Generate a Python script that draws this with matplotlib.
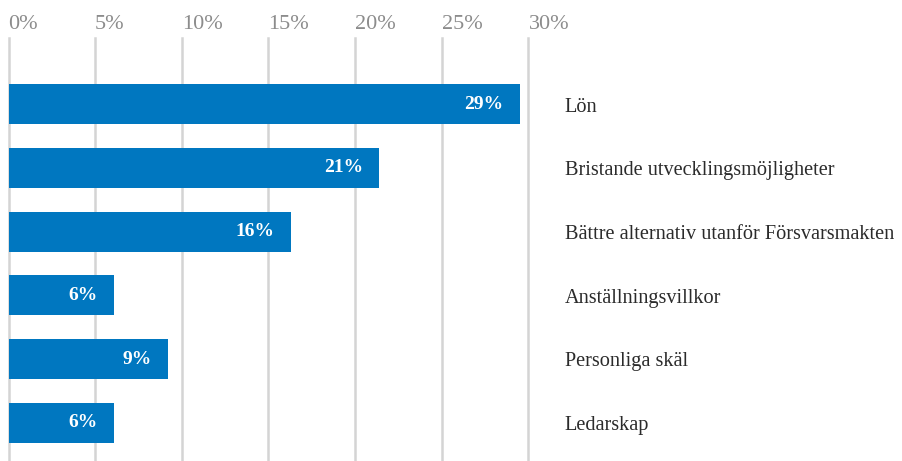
import matplotlib.pyplot as plt
import numpy as np

reasons = ["Lön", "Bristande utvecklingsmöjligheter",
           "Bättre alternativ utanför Försvarsmakten",
           "Anställningsvillkor", "Personliga skäl", "Ledarskap"]
shares = [29.5, 21.4, 16.3, 6.1, 9.2, 6.1]
value_labels = ["29%", "21%", "16%", "6%", "9%", "6%"]
ticks = [0, 5, 10, 15, 20, 25, 30]

plt.rcParams['font.family'] = ['Liberation Serif', 'DejaVu Serif']

fig = plt.figure(figsize=(9.03, 4.61), dpi=100)
ax = fig.add_axes([8.5 / 903, 0, 520 / 903, 423 / 461])

y = np.arange(len(reasons))
ax.barh(y, shares, height=0.63, color='#0077c0', zorder=2)

ax.set_xlim(0, 30)
ax.set_ylim(5.6, -1.04)
ax.set_yticks([])
ax.set_xticks(ticks)
ax.set_xticklabels([f"{t}%" for t in ticks], ha='left')
ax.xaxis.tick_top()
ax.tick_params(axis='x', length=0, pad=3, labelsize=16, labelcolor='#8c8c8c')
for lbl in ax.get_xticklabels():
    lbl.set_x(-0.15)
ax.grid(axis='x', color='#d4d4d4', linewidth=1.8, zorder=0)
for gl in ax.get_xgridlines():
    gl.set_clip_on(False)
for s in ax.spines.values():
    s.set_visible(False)

for yi, v, lab in zip(y, shares, value_labels):
    ax.annotate(lab, (v, yi), xytext=(-12, 0), textcoords='offset points',
                ha='right', va='center', color='white', fontsize=14,
                fontweight='bold')

for yi, name in zip(y, reasons):
    ax.annotate(name, (1, yi), xycoords=('axes fraction', 'data'),
                xytext=(26, -2), textcoords='offset points', ha='left',
                va='center', fontsize=14.6, color='#2b2b2b',
                annotation_clip=False)

fig.savefig('out.png', dpi=100)
